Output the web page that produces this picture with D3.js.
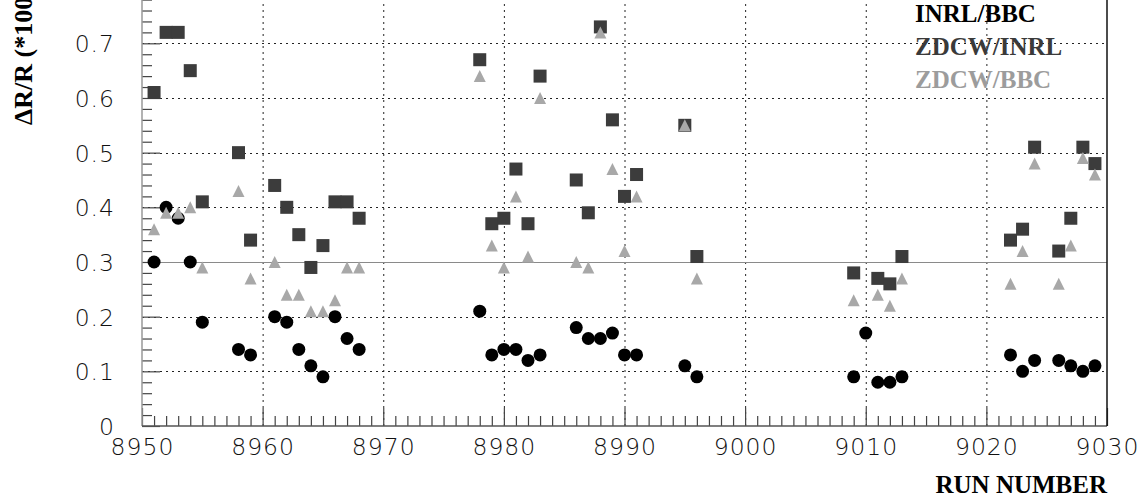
<!DOCTYPE html>
<html>
<head>
<meta charset="utf-8">
<script src="https://cdn.jsdelivr.net/npm/d3@7"></script>
<style>
  html, body { margin: 0; padding: 0; background: #fff; }
  svg { display: block; }
  .tick text { font-family: "DejaVu Sans", sans-serif; font-weight: 200; font-size: 23.5px; letter-spacing: 1px; fill: #111; }
  .title { font-family: "Liberation Serif", "Times New Roman", serif; font-weight: bold; }
</style>
</head>
<body>
<svg id="chart" width="1143" height="499"></svg>
<script>
// ---- data ----
const runs = [8951, 8952, 8953, 8954, 8955, 8958, 8959, 8961, 8962, 8963, 8964, 8965, 8966, 8967, 8968,
  8978, 8979, 8980, 8981, 8982, 8983, 8986, 8987, 8988, 8989, 8990, 8991, 8995, 8996,
  9009, 9010, 9011, 9012, 9013, 9022, 9023, 9024, 9026, 9027, 9028, 9029];
const inrlBbc = [0.30, 0.40, 0.38, 0.30, 0.19, 0.14, 0.13, 0.20, 0.19, 0.14, 0.11, 0.09, 0.20, 0.16, 0.14,
  0.21, 0.13, 0.14, 0.14, 0.12, 0.13, 0.18, 0.16, 0.16, 0.17, 0.13, 0.13, 0.11, 0.09,
  0.09, 0.17, 0.08, 0.08, 0.09, 0.13, 0.10, 0.12, 0.12, 0.11, 0.10, 0.11];
const zdcwInrl = [0.61, 0.72, 0.72, 0.65, 0.41, 0.50, 0.34, 0.44, 0.40, 0.35, 0.29, 0.33, 0.41, 0.41, 0.38,
  0.67, 0.37, 0.38, 0.47, 0.37, 0.64, 0.45, 0.39, 0.73, 0.56, 0.42, 0.46, 0.55, 0.31,
  0.28, null, 0.27, 0.26, 0.31, 0.34, 0.36, 0.51, 0.32, 0.38, 0.51, 0.48];
const zdcwBbc = [0.36, 0.39, 0.39, 0.40, 0.29, 0.43, 0.27, 0.30, 0.24, 0.24, 0.21, 0.21, 0.23, 0.29, 0.29,
  0.64, 0.33, 0.29, 0.42, 0.31, 0.60, 0.30, 0.29, 0.72, 0.47, 0.32, 0.42, 0.55, 0.27,
  0.23, null, 0.24, 0.22, 0.27, 0.26, 0.32, 0.48, 0.26, 0.33, 0.49, 0.46];
const referenceLevel = 0.3;
const xMajorTicks = [8950, 8960, 8970, 8980, 8990, 9000, 9010, 9020, 9030];
const yMajorTicks = [0, 0.1, 0.2, 0.3, 0.4, 0.5, 0.6, 0.7];
const yTickLabels = ["0", "0.1", "0.2", "0.3", "0.4", "0.5", "0.6", "0.7"];
const legendLabels = ["INRL/BBC", "ZDCW/INRL", "ZDCW/BBC"];
const xTitle = "RUN NUMBER";
const yTitle = "\u0394R/R (*100)";

// ---- layout ----
const svg = d3.select("#chart");
const x = d3.scaleLinear().domain([8950, 9030]).range([142, 1107]);
const y = d3.scaleLinear().domain([0, 0.8]).range([426, 426 - 0.8 * 546.7]);
const xMinor = d3.range(8950, 9031, 1).filter(v => v % 10 !== 0);
const yMinor = d3.range(0, 41, 1).map(i => +(i * 0.02).toFixed(2)).filter(v => v <= 0.79 && Math.round(v * 100) % 10 !== 0);

// grid
const grid = svg.append("g");
grid.selectAll("line.vg").data(xMajorTicks.filter(v => v > 8950 && v < 9030)).join("line")
  .attr("x1", d => x(d) + 0.5).attr("x2", d => x(d) + 0.5)
  .attr("y1", y(0)).attr("y2", 0)
  .attr("stroke", "#222").attr("stroke-width", 1).attr("stroke-dasharray", "2,4");
grid.selectAll("line.hg").data(yMajorTicks.filter(v => v > 0 && v !== referenceLevel)).join("line")
  .attr("x1", x(8950)).attr("x2", x(9030))
  .attr("y1", d => Math.round(y(d)) + 0.5).attr("y2", d => Math.round(y(d)) + 0.5)
  .attr("stroke", "#222").attr("stroke-width", 1).attr("stroke-dasharray", "2,4");

// reference line
svg.append("line")
  .attr("x1", x(8950)).attr("x2", x(9030))
  .attr("y1", Math.round(y(referenceLevel)) + 0.5).attr("y2", Math.round(y(referenceLevel)) + 0.5)
  .attr("stroke", "#8a8a8a").attr("stroke-width", 1.2);

// axes
const axMinorY = d3.axisLeft(y).tickValues(yMinor).tickSize(-10).tickFormat("");
const axMajorY = d3.axisLeft(y).tickValues(yMajorTicks).tickSize(-18).tickPadding(27)
  .tickFormat((d, i) => yTickLabels[i]);
const axMinorX = d3.axisBottom(x).tickValues(xMinor).tickSize(-10).tickFormat("");
const axMajorX = d3.axisBottom(x).tickValues(xMajorTicks).tickSize(-18).tickPadding(12).tickFormat(d3.format("d"));

const gy1 = svg.append("g").attr("transform", `translate(${x(8950)},0)`).call(axMinorY);
const gy2 = svg.append("g").attr("transform", `translate(${x(8950)},0)`).call(axMajorY);
const gx1 = svg.append("g").attr("transform", `translate(0,${y(0)})`).call(axMinorX);
const gx2 = svg.append("g").attr("transform", `translate(0,${y(0)})`).call(axMajorX);
[gy1, gy2, gx1, gx2].forEach(g => {
  g.selectAll(".domain").remove();
  g.selectAll(".tick line").attr("stroke", "#444").attr("stroke-width", 1.2);
});
gy2.selectAll(".tick text").attr("dy", "0.36em");
gx2.selectAll(".tick text").attr("dy", "0.72em");

// axis lines and frame
svg.append("line").attr("x1", x(8950)).attr("x2", x(8950)).attr("y1", y(0)).attr("y2", 0)
  .attr("stroke", "#999").attr("stroke-width", 1.5);
svg.append("line").attr("x1", x(8950)).attr("x2", x(9030)).attr("y1", y(0)).attr("y2", y(0))
  .attr("stroke", "#555").attr("stroke-width", 1.5);
svg.append("line").attr("x1", x(9030)).attr("x2", x(9030)).attr("y1", y(0)).attr("y2", 0)
  .attr("stroke", "#111").attr("stroke-width", 1.5);

// markers
const pts = (vals) => runs.map((r, i) => ({ r, v: vals[i] })).filter(d => d.v !== null);
svg.append("g").selectAll("circle").data(pts(inrlBbc)).join("circle")
  .attr("cx", d => x(d.r)).attr("cy", d => y(d.v)).attr("r", 6.5).attr("fill", "#000");
svg.append("g").selectAll("rect").data(pts(zdcwInrl)).join("rect")
  .attr("x", d => x(d.r) - 6.5).attr("y", d => y(d.v) - 6.5).attr("width", 13).attr("height", 13)
  .attr("fill", "#3c3c3c");
svg.append("g").selectAll("path").data(pts(zdcwBbc)).join("path")
  .attr("d", d => `M${x(d.r)},${y(d.v) - 6}L${x(d.r) + 6},${y(d.v) + 6}L${x(d.r) - 6},${y(d.v) + 6}Z`)
  .attr("fill", "#a8a8a8");

// legend
const legendColors = ["#000", "#3a3a3a", "#9c9c9c"];
svg.append("g").selectAll("text").data(legendLabels).join("text")
  .attr("class", "title")
  .attr("x", 915).attr("y", (d, i) => 22 + i * 33)
  .attr("font-size", 25).attr("fill", (d, i) => legendColors[i])
  .text(d => d);

// titles
svg.append("text").attr("class", "title")
  .attr("x", 1107).attr("y", 493).attr("text-anchor", "end")
  .attr("font-size", 25).attr("fill", "#000").text(xTitle);
svg.append("text").attr("class", "title")
  .attr("transform", "translate(32,125) rotate(-90)")
  .attr("text-anchor", "start").attr("font-size", 26).attr("fill", "#000").text(yTitle);
</script>
</body>
</html>
